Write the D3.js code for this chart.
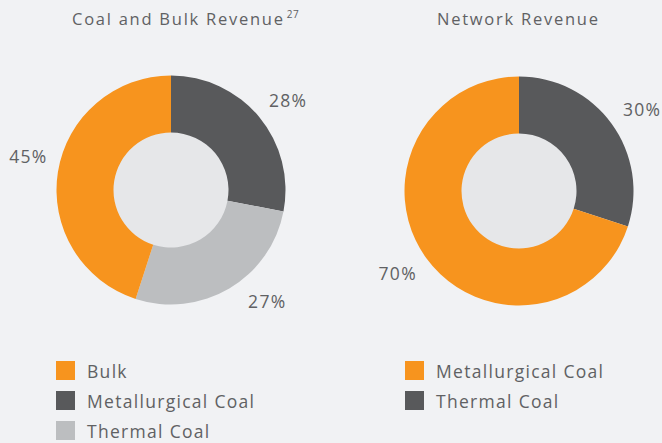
<!DOCTYPE html>
<html>
<head>
<meta charset="utf-8">
<script src="https://cdn.jsdelivr.net/npm/d3@7"></script>
<style>
  html, body { margin: 0; padding: 0; background: #f1f2f4; }
  svg { display: block; font-family: "Open Sans", sans-serif; }
</style>
</head>
<body>
<svg id="chart" width="662" height="443"></svg>
<script>
// ---- data ----
const leftTitle = "Coal and Bulk Revenue";
const leftTitleNote = "27";
const leftCategories = ["Metallurgical Coal", "Thermal Coal", "Bulk"];
const leftValues = [28, 27, 45];
const leftLegendOrder = ["Bulk", "Metallurgical Coal", "Thermal Coal"];

const rightTitle = "Network Revenue";
const rightCategories = ["Thermal Coal", "Metallurgical Coal"];
const rightValues = [30, 70];
const rightLegendOrder = ["Metallurgical Coal", "Thermal Coal"];

// ---- styles ----
const textColor = "#606163";
const colorLeft = d3.scaleOrdinal()
  .domain(["Bulk", "Metallurgical Coal", "Thermal Coal"])
  .range(["#f7941e", "#58595b", "#bcbec0"]);
const colorRight = d3.scaleOrdinal()
  .domain(["Metallurgical Coal", "Thermal Coal"])
  .range(["#f7941e", "#58595b"]);

const svg = d3.select("#chart");
svg.append("rect").attr("width", 662).attr("height", 443).attr("fill", "#f1f2f4");

const outerR = 114.5, innerR = 57.5, labelR = 147;

function donut(cx, cy, cats, vals, color, nudges) {
  const g = svg.append("g").attr("transform", `translate(${cx},${cy})`);
  const pie = d3.pie().sort(null).value(d => d.v);
  const data = pie(cats.map((c, i) => ({ c, v: vals[i] })));
  const arc = d3.arc().innerRadius(innerR).outerRadius(outerR);
  g.append("circle").attr("r", innerR + 1).attr("fill", "#e6e7e9");
  g.selectAll("path.slice").data(data).join("path")
    .attr("class", "slice")
    .attr("d", arc)
    .attr("fill", d => color(d.data.c));
  g.selectAll("text.lbl").data(data).join("text")
    .attr("class", "lbl")
    .attr("transform", (d, i) => {
      const a = (d.startAngle + d.endAngle) / 2 + (nudges[i] || 0) * Math.PI / 180;
      return `translate(${labelR * Math.sin(a) + 0.6},${-labelR * Math.cos(a)})`;
    })
    .attr("text-anchor", "middle")
    .attr("dy", "0.36em")
    .attr("fill", textColor)
    .attr("font-size", 17.5)
    .attr("letter-spacing", 1.3)
    .text(d => d.data.v + "%");
}

function legend(x, y, items, color) {
  const g = svg.append("g").attr("transform", `translate(${x},${y})`);
  const row = g.selectAll("g").data(items).join("g")
    .attr("transform", (d, i) => `translate(0,${i * 30})`);
  row.append("rect").attr("width", 19).attr("height", 19).attr("fill", d => color(d));
  row.append("text").attr("x", 31).attr("y", 16.8)
    .attr("fill", textColor).attr("font-size", 17.5)
    .attr("letter-spacing", 1.3).text(d => d);
}

// titles
const t1 = svg.append("text").attr("x", 72).attr("y", 24.5)
  .attr("fill", textColor).attr("font-size", 16.5).attr("letter-spacing", 1.75);
t1.append("tspan").text(leftTitle);
t1.append("tspan").attr("dx", 2).attr("dy", -7).attr("font-size", 10)
  .attr("letter-spacing", 0.5).text(leftTitleNote);

svg.append("text").attr("x", 437).attr("y", 24.5)
  .attr("fill", textColor).attr("font-size", 16.5).attr("letter-spacing", 1.75)
  .text(rightTitle);

donut(171, 190, leftCategories, leftValues, colorLeft, [2, -10, 4]);
donut(519, 191, rightCategories, rightValues, colorRight, [2.5, 2]);

legend(56, 361, leftLegendOrder, colorLeft);
legend(405, 361, rightLegendOrder, colorRight);
</script>
</body>
</html>
